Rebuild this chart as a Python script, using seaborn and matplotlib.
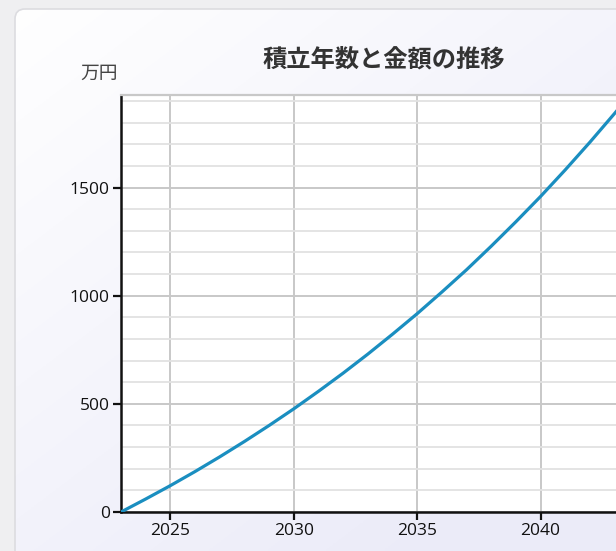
import numpy as np
import pandas as pd
import matplotlib
matplotlib.use("Agg")
import matplotlib.pyplot as plt
from matplotlib.patches import FancyBboxPatch
from matplotlib.ticker import MultipleLocator
import seaborn as sns

# 積立残高(万円)の年次推移
years = [2023, 2024, 2025, 2026, 2027, 2028, 2029, 2030, 2031, 2032, 2033,
         2034, 2035, 2036, 2037, 2038, 2039, 2040, 2041, 2042, 2043, 2044]
balance = [0, 60, 122, 187, 255, 326, 400, 477, 558, 642, 730,
           822, 917, 1017, 1120, 1229, 1342, 1459, 1582, 1710, 1843, 1981]
x_ticks = [2025, 2030, 2035, 2040]
y_ticks = [0, 500, 1000, 1500]

title = "積立年数と金額の推移"
unit_label = "万円"

df = pd.DataFrame({"year": years, "balance": balance})

sns.set_theme(style="white")
plt.rcParams["font.family"] = ["Open Sans", "Noto Sans CJK JP", "DejaVu Sans"]

W, H = 616, 551
fig = plt.figure(figsize=(W / 100, H / 100), dpi=100)
fig.patch.set_facecolor("#efeff1")

# card background with a soft white-to-lavender gradient
bg = fig.add_axes([0, 0, 1, 1])
bg.set_xlim(0, W)
bg.set_ylim(H, 0)
bg.axis("off")
card = FancyBboxPatch((15, 9), W + 40, H + 40,
                      boxstyle="round,pad=0,rounding_size=10",
                      facecolor="none", edgecolor="#dcdce0", linewidth=1.2,
                      transform=bg.transData, zorder=2)
bg.add_patch(card)
gx = np.linspace(0, 1, 200)
gy = np.linspace(0, 1, 200)
GX, GY = np.meshgrid(gx, gy)
t = np.clip(0.55 * GX + 0.65 * GY, 0, 1)
c0 = np.array([1.0, 1.0, 1.0])
c1 = np.array([0.925, 0.925, 0.975])
img = c0[None, None, :] * (1 - t[..., None]) + c1[None, None, :] * t[..., None]
im = bg.imshow(img, extent=[0, W, H, 0], aspect="auto", zorder=1)
im.set_clip_path(card)

# chart area
left, right_px = 121, 664
top_px, bottom_px = 95, 512
ax = fig.add_axes([left / W, (H - bottom_px) / H,
                   (right_px - left) / W, (bottom_px - top_px) / H])
ax.set_facecolor("white")

sns.lineplot(data=df, x="year", y="balance", ax=ax, color="#1a8ec0",
             linewidth=2.3, zorder=5)
ax.lines[0].set_solid_capstyle("round")

ax.set_xlim(2023, 2045)
ax.set_ylim(0, 1928)
ax.set_xticks(x_ticks)
ax.set_yticks(y_ticks)
ax.yaxis.set_minor_locator(MultipleLocator(100))
ax.grid(which="major", color="#c8c8c8", linewidth=1.4)
ax.yaxis.grid(which="minor", color="#e2e2e2", linewidth=1.3)
ax.set_axisbelow(True)
ax.set_xlabel("")
ax.set_ylabel("")

for side in ["left", "bottom"]:
    ax.spines[side].set_color("#111111")
    ax.spines[side].set_linewidth(1.8)
ax.spines["top"].set_color("#c8c8c8")
ax.spines["top"].set_linewidth(1.6)
ax.spines["right"].set_visible(False)

ax.tick_params(axis="both", which="major", direction="out", length=6,
               width=1.6, color="#111111", labelsize=12.5,
               labelcolor="#111111", pad=2)
ax.tick_params(axis="y", which="minor", length=0)
ax.tick_params(left=True, bottom=True)

fig.text(384 / W, 1 - 61 / H, title, ha="center", va="center",
         fontsize=17.5, fontweight="bold", color="#333333")
fig.text(99 / W, 1 - 74 / H, unit_label, ha="center", va="center",
         fontsize=13.5, color="#444444")

fig.savefig("out.png", dpi=100)
